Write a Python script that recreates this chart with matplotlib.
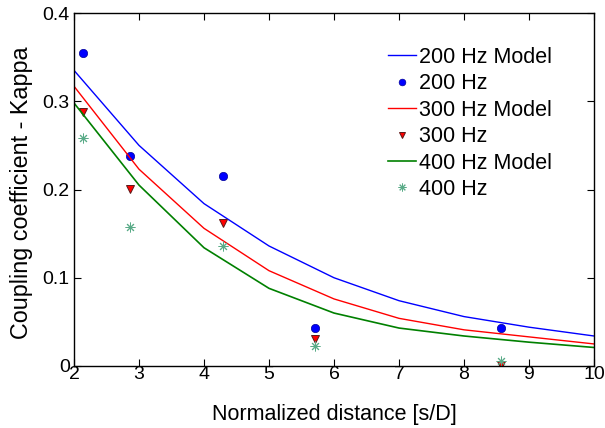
import matplotlib
import numpy as np

matplotlib.use("Agg")
import matplotlib.pyplot as plt

plt.rcParams["font.family"] = ["Liberation Sans", "DejaVu Sans"]

# model curves, evaluated at integer normalized distances
model_x = [2, 3, 4, 5, 6, 7, 8, 9, 10]
model_200 = [0.335, 0.250, 0.184, 0.136, 0.100, 0.074, 0.056, 0.044, 0.034]
model_300 = [0.317, 0.223, 0.156, 0.108, 0.076, 0.054, 0.041, 0.033, 0.025]
model_400 = [0.298, 0.205, 0.134, 0.088, 0.060, 0.043, 0.034, 0.027, 0.021]

# measurements
meas_x = [2.14, 2.86, 4.29, 5.71, 8.57]
meas_200 = [0.355, 0.238, 0.215, 0.043, 0.043]
meas_300 = [0.288, 0.201, 0.162, 0.031, 0.001]
meas_400 = [0.258, 0.158, 0.136, 0.023, 0.006]

fig = plt.figure(figsize=(6.05, 4.28), dpi=100, facecolor="white")
ax = fig.add_axes([74 / 605, 62 / 428, 520 / 605, 353 / 428])

ax.plot(model_x, model_200, color=(0, 0, 1), lw=1.0, label="200 Hz Model")
ax.plot(meas_x, meas_200, ls="none", marker="o", ms=6, mfc=(0, 0, 1),
        mec=(0, 0, 0.6), mew=0.5, label="200 Hz")
ax.plot(model_x, model_300, color=(1, 0, 0), lw=1.0, label="300 Hz Model")
ax.plot(meas_x, meas_300, ls="none", marker="v", ms=6, mfc=(1, 0, 0),
        mec=(0.35, 0.1, 0.1), mew=0.7, label="300 Hz")
ax.plot(model_x, model_400, color=(0, 0.5, 0), lw=1.2, label="400 Hz Model")
ax.plot(meas_x, meas_400, ls="none", marker=(8, 2, 0), ms=7, mec="#5aab88",
        mew=0.7, label="400 Hz")

ax.set_xlim(2, 10)
ax.set_ylim(0, 0.4)
ax.set_xticks(range(2, 11))
ax.set_yticks([0, 0.1, 0.2, 0.3, 0.4])
ax.set_yticklabels(["0", "0.1", "0.2", "0.3", "0.4"])
ax.tick_params(direction="in", top=True, right=True, length=5, width=0.8,
               labelsize=14)
ax.tick_params(axis="x", pad=0)
ax.tick_params(axis="y", pad=3)
for side in ax.spines.values():
    side.set_linewidth(1.0)

ax.set_xlabel("Normalized distance [s/D]", fontsize=15.5, va="top")
ax.xaxis.set_label_coords(0.5, -0.108)
ax.set_ylabel("Coupling coefficient - Kappa", fontsize=16.8)
ax.yaxis.set_label_coords(-0.079, 0.49)

ax.legend(loc="upper left", bbox_to_anchor=(388 / 605, 1 - 47 / 428),
          bbox_transform=fig.transFigure, frameon=False, fontsize=15.5,
          handlelength=1.3, handletextpad=0.15, labelspacing=0.25,
          borderpad=0, borderaxespad=0, numpoints=1, markerscale=0.8)

fig.savefig("out.png", dpi=100, facecolor="white")
